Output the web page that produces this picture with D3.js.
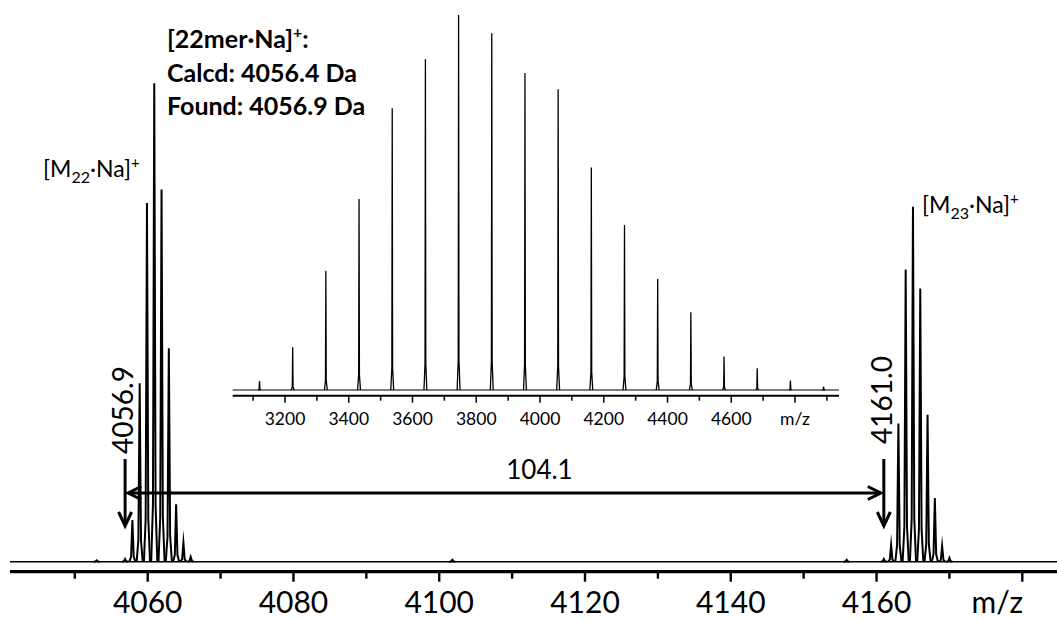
<!DOCTYPE html>
<html>
<head>
<meta charset="utf-8">
<script src="https://cdn.jsdelivr.net/npm/d3@7"></script>
<style>
  body { margin: 0; background: #fff; }
  svg { display: block; }
  text { font-family: Lato, "Open Sans", sans-serif; fill: #000; }
</style>
</head>
<body>
<svg id="chart" width="1057" height="620"></svg>
<script>
// ---- Main spectrum: isotope clusters of the 22mer and 23mer sodium adducts ----
const mainMajorTicks = [4060, 4080, 4100, 4120, 4140, 4160, 4180];
const mainMinorTicks = [4050, 4070, 4090, 4110, 4130, 4150, 4170];
const mainTickLabels = ["4060", "4080", "4100", "4120", "4140", "4160", "m/z"];

const m22Mz  = [4056.9, 4057.9, 4058.9, 4059.9, 4060.9, 4061.9, 4062.9, 4063.9, 4064.9, 4065.9];
const m22Int = [0.6, 8.7, 37.3, 75.0, 100, 77.8, 44.6, 12.0, 4.0, 1.0];

const m23Mz  = [4161.0, 4162.0, 4163.0, 4164.0, 4165.0, 4166.0, 4167.0, 4168.0, 4169.0, 4170.0];
const m23Int = [0.6, 3.5, 28.9, 61.1, 74.2, 57.1, 30.7, 13.3, 3.3, 0.8];

const noiseMz  = [4053.0, 4101.8, 4155.9];
const noiseInt = [0.3, 0.4, 0.4];

const foundMonoA = 4056.9;
const foundMonoB = 4161.0;
const spacingLabel = "104.1";

// ---- Inset: full oligomer distribution ----
const insetMajorTicks = [3200, 3400, 3600, 3800, 4000, 4200, 4400, 4600, 4800];
const insetMinorTicks = [3100, 3300, 3500, 3700, 3900, 4100, 4300, 4500, 4700, 4900];
const insetTickLabels = ["3200", "3400", "3600", "3800", "4000", "4200", "4400", "4600", "m/z"];

const oligomerN   = [13, 14, 15, 16, 17, 18, 19, 20, 21, 22, 23, 24, 25, 26, 27, 28, 29, 30];
const oligomerMz  = [3120.0, 3224.1, 3328.2, 3432.3, 3536.4, 3640.5, 3744.6, 3848.7, 3952.8,
                     4056.9, 4161.0, 4265.1, 4369.2, 4473.3, 4577.4, 4681.5, 4785.6, 4889.7];
const oligomerInt = [0.024, 0.114, 0.318, 0.509, 0.751, 0.882, 1.0, 0.951, 0.845,
                     0.802, 0.593, 0.44, 0.296, 0.207, 0.089, 0.058, 0.025, 0.009];

const svg = d3.select("#chart");

// Main scales
const x = d3.scaleLinear().domain([4060, 4180]).range([147.7, 1022.3]);
const y = d3.scaleLinear().domain([0, 100]).range([561.7, 83.3]);
const xLeft = 10, xRight = 1057;

// Inset scales
const xi = d3.scaleLinear().domain([3200, 4000]).range([285, 540]);
const yi = d3.scaleLinear().domain([0, 1]).range([390, 15]);
const xiLeft = 232.7, xiRight = 839;

const line = d3.line();

// ---------- Inset ----------
const inset = svg.append("g");
inset.append("line")
  .attr("x1", xiLeft).attr("x2", xiRight)
  .attr("y1", yi(0)).attr("y2", yi(0))
  .attr("stroke", "#000").attr("stroke-width", 1.2);

const insetHalf = 4.5; // half-width of each oligomer peak, in m/z
inset.selectAll("path.ipeak")
  .data(oligomerMz.map((m, i) => ({ m, v: oligomerInt[i] })))
  .join("path")
  .attr("class", "ipeak")
  .attr("fill", "none").attr("stroke", "#000").attr("stroke-width", 1.3)
  .attr("stroke-linejoin", "miter")
  .attr("d", d => line([
    [xi(d.m - insetHalf), yi(0)],
    [xi(d.m - 1.2), yi(d.v * 0.08)],
    [xi(d.m), yi(d.v)],
    [xi(d.m + 1.2), yi(d.v * 0.08)],
    [xi(d.m + insetHalf), yi(0)]
  ]));

const insetAxisY = 395.7;
inset.append("line")
  .attr("x1", xiLeft).attr("x2", xiRight)
  .attr("y1", insetAxisY).attr("y2", insetAxisY)
  .attr("stroke", "#000").attr("stroke-width", 2);
inset.selectAll("line.imaj").data(insetMajorTicks).join("line")
  .attr("class", "imaj")
  .attr("x1", d => xi(d)).attr("x2", d => xi(d))
  .attr("y1", insetAxisY).attr("y2", insetAxisY + 7)
  .attr("stroke", "#000").attr("stroke-width", 1.5);
inset.selectAll("line.imin").data(insetMinorTicks).join("line")
  .attr("class", "imin")
  .attr("x1", d => xi(d)).attr("x2", d => xi(d))
  .attr("y1", insetAxisY).attr("y2", insetAxisY + 5)
  .attr("stroke", "#000").attr("stroke-width", 1.5);
inset.selectAll("text.ilab").data(insetMajorTicks).join("text")
  .attr("class", "ilab")
  .attr("x", d => xi(d)).attr("y", 425)
  .attr("text-anchor", "middle")
  .attr("font-size", 17.5)
  .text((d, i) => insetTickLabels[i]);

// ---------- Main spectrum ----------
const spec = svg.append("g");
spec.append("line")
  .attr("x1", xLeft).attr("x2", xRight)
  .attr("y1", y(0)).attr("y2", y(0))
  .attr("stroke", "#000").attr("stroke-width", 1.6);

const mainHalf = 0.42; // half-width of each isotope peak, in m/z
const peaks = m22Mz.map((m, i) => ({ m, v: m22Int[i] }))
  .concat(m23Mz.map((m, i) => ({ m, v: m23Int[i] })))
  .concat(noiseMz.map((m, i) => ({ m, v: noiseInt[i] })));
spec.selectAll("path.peak").data(peaks).join("path")
  .attr("class", "peak")
  .attr("fill", "none").attr("stroke", "#000").attr("stroke-width", 2)
  .attr("stroke-linejoin", "miter").attr("stroke-miterlimit", 20)
  .attr("d", d => line([
    [x(d.m - mainHalf), y(0)],
    [x(d.m - 0.18), y(d.v * 0.12)],
    [x(d.m), y(d.v)],
    [x(d.m + 0.18), y(d.v * 0.12)],
    [x(d.m + mainHalf), y(0)]
  ]));

// Main axis
const axisY = 571.7;
spec.append("line")
  .attr("x1", xLeft).attr("x2", xRight)
  .attr("y1", axisY).attr("y2", axisY)
  .attr("stroke", "#000").attr("stroke-width", 3.2);
spec.selectAll("line.maj").data(mainMajorTicks).join("line")
  .attr("class", "maj")
  .attr("x1", d => x(d)).attr("x2", d => x(d))
  .attr("y1", axisY).attr("y2", axisY + 10)
  .attr("stroke", "#000").attr("stroke-width", 2.4);
spec.selectAll("line.min").data(mainMinorTicks).join("line")
  .attr("class", "min")
  .attr("x1", d => x(d)).attr("x2", d => x(d))
  .attr("y1", axisY).attr("y2", axisY + 7)
  .attr("stroke", "#000").attr("stroke-width", 2.4);
spec.selectAll("text.lab").data(mainMajorTicks).join("text")
  .attr("class", "lab")
  .attr("x", (d, i) => mainTickLabels[i] === "m/z" ? x(d) - 25 : x(d))
  .attr("y", 613)
  .attr("text-anchor", "middle")
  .attr("font-size", 30)
  .text((d, i) => mainTickLabels[i]);

// ---------- Arrows marking the monoisotopic peaks ----------
const ann = svg.append("g").attr("stroke", "#000").attr("fill", "none");
[foundMonoA, foundMonoB].forEach(m => {
  const ax = x(m);
  ann.append("line")
    .attr("x1", ax).attr("x2", ax).attr("y1", 459).attr("y2", 525)
    .attr("stroke-width", 3);
  ann.append("path")
    .attr("d", line([[ax - 6.5, 512], [ax, 526], [ax + 6.5, 512]]))
    .attr("stroke-width", 3);
});
const arrowY = 493;
const ax1 = x(foundMonoA) + 3, ax2 = x(foundMonoB) - 3;
ann.append("line")
  .attr("x1", ax1).attr("x2", ax2).attr("y1", arrowY).attr("y2", arrowY)
  .attr("stroke-width", 3);
ann.append("path")
  .attr("d", line([[ax1 + 13, arrowY - 6.5], [ax1, arrowY], [ax1 + 13, arrowY + 6.5]]))
  .attr("stroke-width", 3);
ann.append("path")
  .attr("d", line([[ax2 - 13, arrowY - 6.5], [ax2, arrowY], [ax2 - 13, arrowY + 6.5]]))
  .attr("stroke-width", 3);

svg.append("text")
  .attr("x", (x(foundMonoA) + x(foundMonoB)) / 2 + 35).attr("y", 479)
  .attr("text-anchor", "middle").attr("font-size", 26)
  .text(spacingLabel);

svg.append("text")
  .attr("transform", `translate(${x(foundMonoA) + 8},${410}) rotate(-90)`)
  .attr("text-anchor", "middle").attr("font-size", 28)
  .text(foundMonoA.toFixed(1));
svg.append("text")
  .attr("transform", `translate(${x(foundMonoB) + 8},${400}) rotate(-90)`)
  .attr("text-anchor", "middle").attr("font-size", 28)
  .text(foundMonoB.toFixed(1));

// ---------- Ion labels ----------
function ionLabel(tx, ty, n) {
  const t = svg.append("text").attr("x", tx).attr("y", ty).attr("font-size", 23);
  t.append("tspan").text("[M");
  t.append("tspan").attr("font-size", 16).attr("dy", 6).text(n);
  t.append("tspan").attr("dy", -6).text("·Na]");
  t.append("tspan").attr("font-size", 15).attr("dy", -9).text("+");
}
ionLabel(43, 177, "22");
ionLabel(922, 213, "23");

const info = svg.append("g").attr("font-weight", "bold").attr("font-size", 25);
const t1 = info.append("text").attr("x", 167).attr("y", 48);
t1.append("tspan").text("[22mer·Na]");
t1.append("tspan").attr("font-size", 16).attr("dy", -10).text("+");
t1.append("tspan").attr("dy", 10).text(":");
info.append("text").attr("x", 167).attr("y", 82).text("Calcd: 4056.4 Da");
info.append("text").attr("x", 167).attr("y", 115).text("Found: 4056.9 Da");
</script>
</body>
</html>
